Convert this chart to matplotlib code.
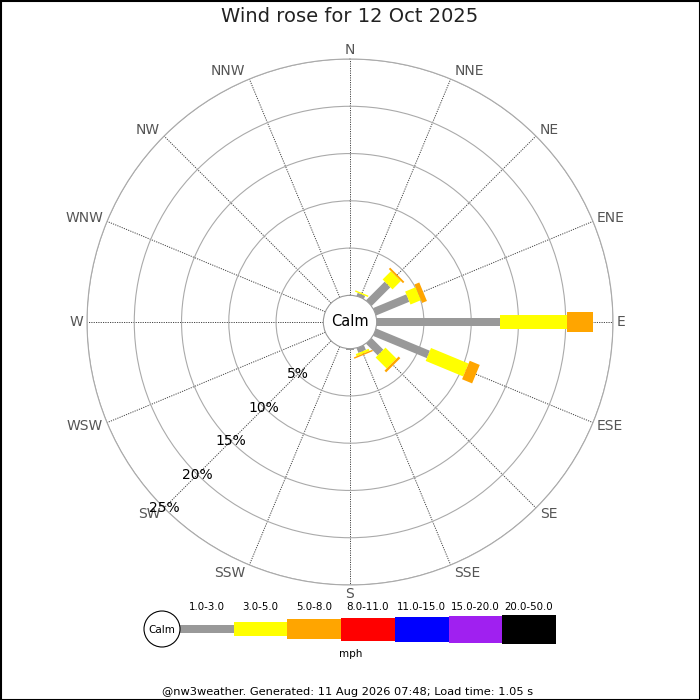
import numpy as np
import matplotlib
matplotlib.use("Agg")
import matplotlib.pyplot as plt
from matplotlib.patches import Rectangle, Circle

# 16 compass points, clockwise from north
directions = ["N", "NNE", "NE", "ENE", "E", "ESE", "SE", "SSE",
              "S", "SSW", "SW", "WSW", "W", "WNW", "NW", "NNW"]

# percentage of time per direction for each speed band (mph)
pct_1_3 = [0, 0.35, 2.8, 3.8, 13.1, 6.15, 1.75, 0.55, 0.1, 0, 0, 0, 0, 0, 0, 0]
pct_3_5 = [0, 0.15, 1.25, 1.2, 7.0, 4.3, 1.65, 0.25, 0.08, 0, 0, 0, 0, 0, 0, 0]
pct_5_8 = [0, 0, 0.2, 0.55, 2.75, 1.15, 0.25, 0.15, 0, 0, 0, 0, 0, 0, 0, 0]

speed_bands = ["1.0-3.0", "3.0-5.0", "5.0-8.0", "8.0-11.0",
               "11.0-15.0", "15.0-20.0", "20.0-50.0"]
band_colors = ["#999999", "#ffff00", "#ffa500", "#ff0000",
               "#0000ff", "#a020f0", "#000000"]
band_px = [8, 14, 20, 23, 25, 27, 29]   # bar thickness in pixels

rings = [5, 10, 15, 20, 25]

px2pt = 72 / 100

fig = plt.figure(figsize=(7, 7), dpi=100)
fig.patch.set_facecolor("white")

ax = fig.add_axes([0.1243, 0.1643, 0.7514, 0.7514], projection="polar")
ax.set_theta_zero_location("N")
ax.set_theta_direction(-1)
ax.set_rorigin(-2.82)
ax.set_ylim(0, 25)

angles = np.deg2rad(np.arange(16) * 22.5)
ax.set_xticks(angles)
ax.set_xticklabels([])
ax.set_yticks(rings)
ax.set_yticklabels([])
ax.tick_params(length=0)
ax.xaxis.grid(True, color="#444444", linestyle=(0, (1.2, 1.2)), linewidth=0.7)
ax.yaxis.grid(True, color="#aaaaaa", linestyle="-", linewidth=0.8)
ax.spines["polar"].set_color("#aaaaaa")
ax.spines["polar"].set_linewidth(0.8)
ax.spines["inner"].set_color("#999999")
ax.spines["inner"].set_linewidth(0.8)

# stacked bars, one thick line segment per band
for i, th in enumerate(angles):
    cum = 0.0
    for k, vals in enumerate([pct_1_3, pct_3_5, pct_5_8]):
        v = vals[i]
        if v <= 0:
            continue
        ax.plot([th, th], [cum, cum + v], color=band_colors[k],
                lw=band_px[k] * px2pt, solid_capstyle="butt", zorder=3)
        cum += v

# compass labels, offset from the end of each spoke
for th, name in zip(angles, directions):
    s, c = np.sin(th), np.cos(th)
    if s > 0.01:
        ha, dx = "left", 3.8
    elif s < -0.01:
        ha, dx = "right", -3.8
    else:
        ha, dx = "center", 0
    dy = 9.2 * c
    ax.annotate(name, xy=(th, 25), xytext=(dx * px2pt, dy * px2pt),
                textcoords="offset points", ha=ha, va="center",
                fontsize=10, color="#555555", annotation_clip=False)

# percent labels along SW
for r in rings:
    ax.text(np.deg2rad(225), r, f"{r}%", ha="center", va="center",
            fontsize=10, color="black", zorder=4)

ax.text(0.5, 0.5, "Calm", transform=ax.transAxes, ha="center",
        va="center", fontsize=10.5)

# legend + annotations in pixel coordinates
lax = fig.add_axes([0, 0, 1, 1])
lax.set_xlim(0, 700)
lax.set_ylim(700, 0)
lax.axis("off")

lax.text(350, 17, "Wind rose for 12 Oct 2025", ha="center", va="center",
         fontsize=14, color="#222222")

x0, seg, yc = 180, 53.7, 629.3
for k, (lab, col, h) in enumerate(zip(speed_bands, band_colors, band_px)):
    lax.add_patch(Rectangle((x0 + k * seg, yc - h / 2), seg, h,
                            facecolor=col, edgecolor="none"))
    lax.text(x0 + (k + 0.5) * seg, 607, lab, ha="center", va="center",
             fontsize=7.4)
lax.add_patch(Circle((162, 629), 18, facecolor="white", edgecolor="black",
                     lw=0.8, zorder=3))
lax.text(162, 630, "Calm", ha="center", va="center", fontsize=7.5, zorder=4)
lax.text(351, 654, "mph", ha="center", va="center", fontsize=7.5)

lax.text(348, 692, "@nw3weather. Generated: 11 Aug 2026 07:48; Load time: 1.05 s",
         ha="center", va="center", fontsize=8.2)

lax.add_patch(Rectangle((0.5, 0.5), 699, 699, fill=False,
                        edgecolor="black", lw=1.5, clip_on=False))

fig.savefig("out.png", dpi=100)
